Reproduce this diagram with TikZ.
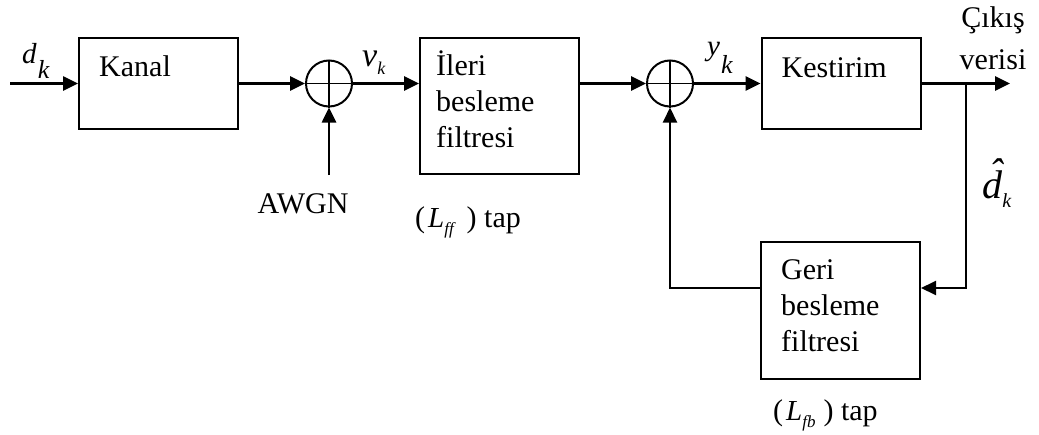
\documentclass[tikz,border=0pt]{standalone}
\usepackage{fontspec}
\setmainfont{Liberation Serif}
\usetikzlibrary{arrows.meta}

\tikzset{
  blok/.style={draw, line width=2pt, minimum width=159pt, inner sep=0pt},
  topla/.style={draw, circle, line width=2pt, minimum size=46pt, inner sep=0pt},
  ucu/.style={-{Triangle[length=15pt,width=14pt]}},
  sinyal/.style={line width=2.6pt, ucu},
  geribesleme/.style={line width=2pt},
  yazi/.style={inner sep=0pt, anchor=base west, align=left, font=\fontsize{30}{36}\selectfont},
}

\begin{document}
\begin{tikzpicture}[x=1pt,y=-1pt]
\useasboundingbox (0,0) rectangle (1039,434);
% bloklar
\node[blok, minimum height=91pt] (kanal) at (158.5,83.5) {};
\node[blok, minimum height=136pt] (ileri) at (499.5,106) {};
\node[blok, minimum height=91pt] (kestirim) at (841,83.5) {};
\node[blok, minimum height=137pt] (geri) at (840.5,310.5) {};
\node[topla] (t1) at (329,83.5) {};
\node[topla] (t2) at (670,83.5) {};
\draw[line width=1.5pt] (t1.north) -- (t1.south) (t1.west) -- (t1.east);
\draw[line width=1.5pt] (t2.north) -- (t2.south) (t2.west) -- (t2.east);
% blok yazilari (cok satirlilar son satirin tabanina gore)
\node[yazi] (kanalyazi) at ([xshift=21pt,yshift=-39pt]kanal.north west) {Kanal};
\node[yazi] (ileriyazi) at ([xshift=17pt,yshift=-110pt]ileri.north west) {İleri\\besleme\\filtresi};
\node[yazi] (kestirimyazi) at ([xshift=21pt,yshift=-40pt]kestirim.north west) {Kestirim};
\node[yazi] (geriyazi) at ([xshift=21pt,yshift=-110pt]geri.north west) {Geri\\besleme\\filtresi};
% baglantilar
\coordinate (giris) at (10,83.5);
\coordinate (gurultu) at (329,175);
\coordinate (dal) at (966,83.5);
\coordinate (cikis) at (1010,83.5);
\draw[sinyal] (giris) -- (kanal.west);
\draw[sinyal] (kanal.east) -- (t1.west);
\draw[sinyal] (gurultu) -- (t1.south);
\draw[sinyal] (t1.east) -- (t1.east -| ileri.west);
\draw[sinyal] (ileri.east |- t2) -- (t2.west);
\draw[sinyal] (t2.east) -- (kestirim.west);
\draw[sinyal] (kestirim.east) -- (cikis);
\draw[geribesleme, ucu] (dal) |- ([yshift=22.5pt]geri.east);
\draw[geribesleme, ucu] ([yshift=22.5pt]geri.west) -| (t2.south);
% etiketler
\node[yazi] (dk) at (22,63) {{\fontsize{29}{29}\selectfont\textit{d}}\kern1pt\raisebox{-15pt}{\fontsize{26}{26}\selectfont\textit{k}}};
\node[yazi] (vk) at (362,66) {{\fontsize{34}{34}\selectfont\textit{v}}\raisebox{-8pt}{\fontsize{18}{18}\selectfont\textit{k}}};
\node[yazi] (yk) at (707,55) {{\fontsize{29}{29}\selectfont\textit{y}}\kern1pt\raisebox{-18pt}{\fontsize{26}{26}\selectfont\textit{k}}};
\node[yazi] (dsapka) at (982,198) {{\fontsize{40}{40}\selectfont\textit{\makebox[0pt][l]{\kern7pt\raisebox{12pt}{\char"02C6}}d}}\raisebox{-9pt}{\fontsize{20}{20}\selectfont\textit{k}}};
\node[yazi, anchor=base] (cikisyazi) at (993,27) {Çıkış};
\node[yazi, anchor=base] (verisi) at (993,69) {verisi};
\node[yazi, anchor=base] (awgn) at (303,213) {AWGN};
\node[yazi] (lff) at (415,227) {(\kern3pt{\fontsize{29}{29}\selectfont\textit{L}}\raisebox{-7pt}{\fontsize{17}{17}\selectfont\textit{ff}}\kern11pt) tap};
\node[yazi] (lfb) at (773,420) {(\kern3pt{\fontsize{29}{29}\selectfont\textit{L}}\raisebox{-7pt}{\fontsize{17}{17}\selectfont\textit{fb}}\kern8pt) tap};
\end{tikzpicture}
\end{document}
